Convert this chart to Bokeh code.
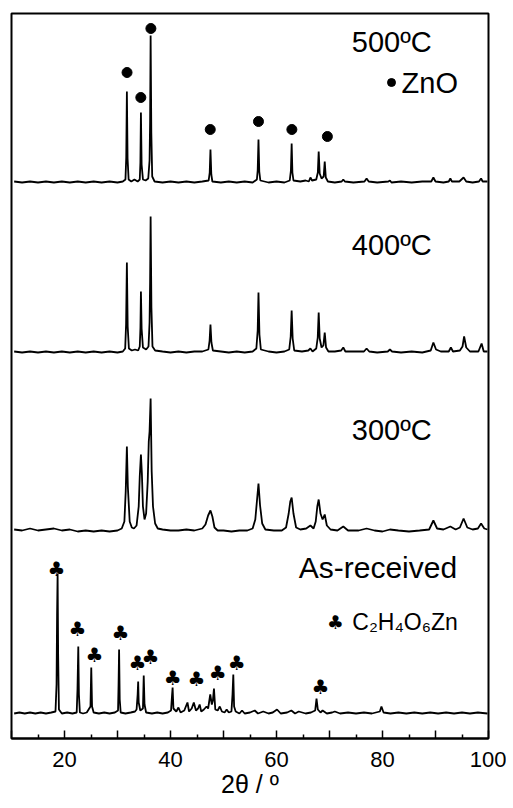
from bokeh.plotting import figure
from bokeh.models import FixedTicker, Label
from bokeh.embed import file_html
from bokeh.resources import INLINE
from bokeh.core.properties import value

# ---------------- data (2theta in degrees, intensity in a.u.) ----------------
offsets = {"500": 556, "400": 386, "300": 207, "as": 24}

pat_500 = [(10.5,1),(12,0),(13.5,1),(15,0),(16.5,1),(18,0),(19.5,1),(21,0),(22.5,1),(24,0),(25.5,1),(27,0),(28.5,1),(30,0),
    (31.0,1),(31.5,3),(31.65,25),(31.77,91),(31.9,24),(32.1,3),(32.6,1),(33.2,3),(33.8,1),(34.2,3),(34.32,20),(34.42,70),(34.55,18),
    (34.8,3),(35.3,2),(35.8,4),(36.05,22),(36.15,60),(36.25,147),(36.38,50),(36.55,6),(37.0,1),(38.5,0),(40,1),(41.5,0),(43,1),
    (44.5,0),(46,1),(47.2,2),(47.4,10),(47.54,33),(47.7,8),(47.9,1),(49.5,0),(51,1),(52.5,0),(54,1),(55.5,0),(56.3,3),(56.45,12),
    (56.6,43),(56.75,11),(56.95,2),(58.5,0),(60,1),(61.5,0),(62.5,2),(62.72,12),(62.86,39),(63.0,10),(63.2,2),(64.5,1),(65.5,2),
    (66.1,1),(66.4,5),(66.7,2),(67.5,3),(67.8,10),(67.96,31),(68.15,9),(68.5,4),(68.9,6),(69.1,21),(69.3,5),(69.7,1),(71,0),
    (72.3,1),(72.6,3),(72.9,1),(74.5,0),(76.6,1),(77.0,4),(77.4,1),(79,0),(81.1,1),(81.4,2),(81.7,0),(83.5,1),(85.5,0),(87.5,1),
    (89.2,1),(89.6,5),(90.0,1),(91.5,0),(92.5,1),(92.8,4),(93.1,1),(94.5,1),(95.3,5),(95.8,1),(97,0),(98.2,1),(98.6,4),(98.9,1),(99.8,1)]

pat_400 = [(10.5,1),(12,0),(13.5,1),(15,0),(16.5,1),(18,0),(19.5,1),(21,0),(22.5,1),(24,0),(25.5,1),(27,0),(28.5,1),(30,0),
    (31.0,1),(31.45,4),(31.62,28),(31.77,90),(31.92,26),(32.15,4),(32.7,2),(33.3,3),(33.9,2),(34.2,6),(34.33,25),(34.42,61),
    (34.55,24),(34.8,5),(35.4,3),(35.85,6),(36.05,30),(36.15,70),(36.25,136),(36.4,45),(36.6,6),(37.1,2),(38.5,1),(40,0),(41.5,1),
    (43,0),(44.5,1),(46,1),(47.15,3),(47.38,12),(47.54,28),(47.72,10),(48.0,2),(49.5,1),(51,0),(52.5,1),(54,0),(55.5,1),(56.2,4),
    (56.45,22),(56.6,60),(56.78,18),(57.05,3),(58.5,1),(60,0),(61.5,1),(62.4,3),(62.68,16),(62.86,42),(63.05,14),(63.35,2),
    (64.8,1),(66.0,2),(66.4,4),(66.8,1),(67.5,4),(67.78,15),(67.96,40),(68.15,14),(68.5,5),(68.85,7),(69.1,20),(69.35,5),
    (69.8,1),(71,1),(72.2,2),(72.6,5),(73.0,1),(74.5,1),(76.5,1),(77.0,4),(77.5,1),(79,0),(81.0,1),(81.4,3),(81.8,1),(83.5,0),
    (85.5,1),(87.5,0),(89.1,2),(89.6,10),(90.1,3),(91.0,1),(92.5,1),(92.9,5),(93.3,1),(94.6,2),(95.1,6),(95.4,16),(95.8,5),
    (96.5,1),(98.1,1),(98.7,9),(99.1,1),(99.8,1)]

pat_300 = [(10.5,2),(12,1),(13.5,3),(15,1),(16.5,2),(18,3),(19.5,1),(21,2),(22.5,0),(24,1),(25.5,0),(27,1),(28.5,0),(30,1),
    (30.8,3),(31.3,10),(31.55,40),(31.77,85),(31.95,45),(32.3,10),(32.7,4),(33.1,3),(33.6,6),(34.0,25),(34.2,55),(34.42,77),
    (34.6,58),(34.8,25),(35.1,12),(35.4,18),(35.7,50),(35.9,90),(36.05,100),(36.25,133),(36.45,60),(36.7,25),(37.1,8),(37.6,3),
    (38.5,2),(40,1),(41.5,1),(43,2),(44.5,1),(46.0,3),(46.6,7),(47.1,16),(47.54,21),(47.9,15),(48.3,4),(48.9,1),(50,1),
    (51.5,0),(53,1),(54.5,1),(55.5,3),(56.0,12),(56.3,30),(56.6,48),(56.9,26),(57.3,8),(57.9,2),(59.5,1),(61,1),(61.8,4),
    (62.3,18),(62.6,30),(62.86,34),(63.2,18),(63.7,4),(64.5,2),(65.6,3),(66.4,6),(67.0,3),(67.4,10),(67.7,25),(67.96,32),
    (68.3,18),(68.7,12),(69.1,17),(69.5,6),(70.2,2),(71.5,1),(72.6,5),(73.5,1),(75.5,1),(77,3),(78.5,1),(80,0),(81.4,2),
    (83,1),(85,0),(87,1),(88.8,2),(89.6,11),(90.3,3),(91.5,2),(92.8,5),(93.8,2),(94.6,4),(95.3,13),(96.0,4),(97,2),(98.0,3),
    (98.6,8),(99.2,3),(99.8,2)]

pat_as = [(10.5,1),(11.5,2),(12.5,1),(13.5,2),(14.5,1),(15.5,2),(16.5,1),(17.5,2),(18.3,3),(18.5,30),(18.6,100),(18.7,141),
    (18.8,60),(18.95,5),(19.5,1),(20.5,2),(21.5,1),(22.3,2),(22.45,25),(22.6,68),(22.72,20),(22.9,2),(23.5,1),(24.2,2),(24.9,8),
    (25.05,47),(25.2,8),(25.5,2),(26.5,1),(27.5,2),(28.5,1),(29.5,2),(30.1,4),(30.2,30),(30.3,65),(30.42,15),(30.6,2),(31.5,1),
    (32.5,2),(33.3,3),(33.6,5),(33.8,20),(33.9,33),(34.0,12),(34.3,4),(34.8,6),(34.95,39),(35.1,10),(35.4,2),(36.5,1),(37.5,2),
    (38.5,1),(39.5,2),(40.1,4),(40.3,20),(40.4,27),(40.55,6),(41.1,3),(41.5,7),(41.9,2),(42.6,4),(43.2,12),(43.5,3),(44.0,6),
    (44.4,12),(44.8,4),(45.2,6),(45.5,10),(45.8,3),(46.3,5),(46.8,8),(47.1,6),(47.5,20),(47.8,10),(48.0,14),(48.2,26),(48.45,5),
    (48.9,4),(49.3,8),(49.7,3),(50.2,2),(50.6,5),(51.0,2),(51.5,3),(51.7,20),(51.85,40),(52.0,8),(52.3,3),(53.0,1),(53.5,4),
    (54.0,1),(55.0,2),(55.9,4),(56.5,1),(57.5,3),(58.5,1),(59.3,2),(60.1,5),(60.8,1),(62.0,2),(62.8,4),(63.5,1),(64.2,3),
    (65.5,1),(66.5,2),(67.3,4),(67.55,16),(67.8,5),(68.3,2),(68.7,4),(69.5,1),(70.5,2),(71.0,3),(72,1),(73.5,2),(75,1),
    (76.5,2),(78,1),(79.5,3),(79.8,8),(80.2,2),(81.5,1),(83,2),(84.5,1),(86,2),(87.5,1),(89,2),(90.5,1),(92,2),(93.5,1),
    (95,2),(96.5,1),(98,2),(99.8,1)]

# ZnO reflection markers (500 C pattern)
zno_tt = [31.8, 34.4, 36.3, 47.5, 56.6, 62.9, 69.6]
zno_y = [666, 641, 710, 609, 617, 609, 602]

# C2H4O6Zn reflection markers (as-received pattern)
club_tt = [18.5, 22.45, 25.66, 30.57, 33.77, 36.2, 40.4, 44.9, 48.9, 52.5, 68.3]
club_y = [170, 110, 84, 106, 76, 82, 61, 60, 66, 76, 52]

x_ticks = [10, 20, 30, 40, 50, 60, 70, 80, 90, 100]
x_minor = [15, 25, 35, 45, 55, 65, 75, 85, 95]
x_labels = {10: "", 20: "20", 30: "", 40: "40", 50: "", 60: "60", 70: "", 80: "80", 90: "", 100: "100"}

FONT = "Liberation Sans"

p = figure(width=506, height=805, x_range=(10, 100), y_range=(0, 725),
           output_backend="svg", toolbar_location=None, y_axis_location=None,
           min_border_left=11, min_border_right=18, min_border_top=13, min_border_bottom=67)
p.grid.visible = False
p.outline_line_color = "black"
p.outline_line_width = 2
p.outline_line_alpha = 1
p.background_fill_color = "white"
p.border_fill_color = "white"

ax = p.xaxis[0]
ax.ticker = FixedTicker(ticks=x_ticks, minor_ticks=x_minor)
ax.major_label_overrides = x_labels
ax.axis_line_color = "black"
ax.axis_line_width = 2
ax.major_tick_in = 8
ax.major_tick_out = 0
ax.minor_tick_in = 4
ax.minor_tick_out = 0
ax.major_tick_line_width = 1.5
ax.minor_tick_line_width = 1.5
ax.major_tick_line_color = "black"
ax.minor_tick_line_color = "black"
ax.major_label_text_font = FONT
ax.major_label_text_font_size = "22px"
ax.major_label_text_color = "black"
ax.major_label_standoff = 13
ax.axis_label = "2θ / º"
ax.axis_label_text_font = FONT
ax.axis_label_text_font_size = "25px"
ax.axis_label_text_font_style = "normal"
ax.axis_label_text_color = "black"
ax.axis_label_standoff = 0

for key, pat in [("500", pat_500), ("400", pat_400), ("300", pat_300), ("as", pat_as)]:
    xs = [a for a, b in pat]
    ys = [b + offsets[key] for a, b in pat]
    p.line(xs, ys, line_color="black", line_width=1.8)

p.scatter(zno_tt, zno_y, marker="circle", size=10, color="black")
p.scatter([81.7], [656], marker="circle", size=8, color="black")

p.text(club_tt, club_y, text=["\u2663"] * len(club_tt), text_font=value("DejaVu Sans"),
       text_font_size="20px", text_align="center", text_baseline="middle", text_color="black")
p.text([71.1], [117], text=["\u2663"], text_font=value("DejaVu Sans"),
       text_font_size="19px", text_align="center", text_baseline="middle", text_color="black")

def lab(x, y, t, size="29px", align="left"):
    p.add_layout(Label(x=x, y=y, text=t, text_font=FONT, text_font_size=size,
                       text_align=align, text_baseline="middle", text_color="black"))

lab(74.2, 697, "500ºC")
lab(83.6, 656, "ZnO")
lab(74.2, 494, "400ºC")
lab(74.2, 309, "300ºC")
lab(64.2, 171, "As-received", size="30px")
lab(74.3, 117, "C₂H₄O₆Zn", size="23px")

open("out.html", "w").write(file_html(p, INLINE))
